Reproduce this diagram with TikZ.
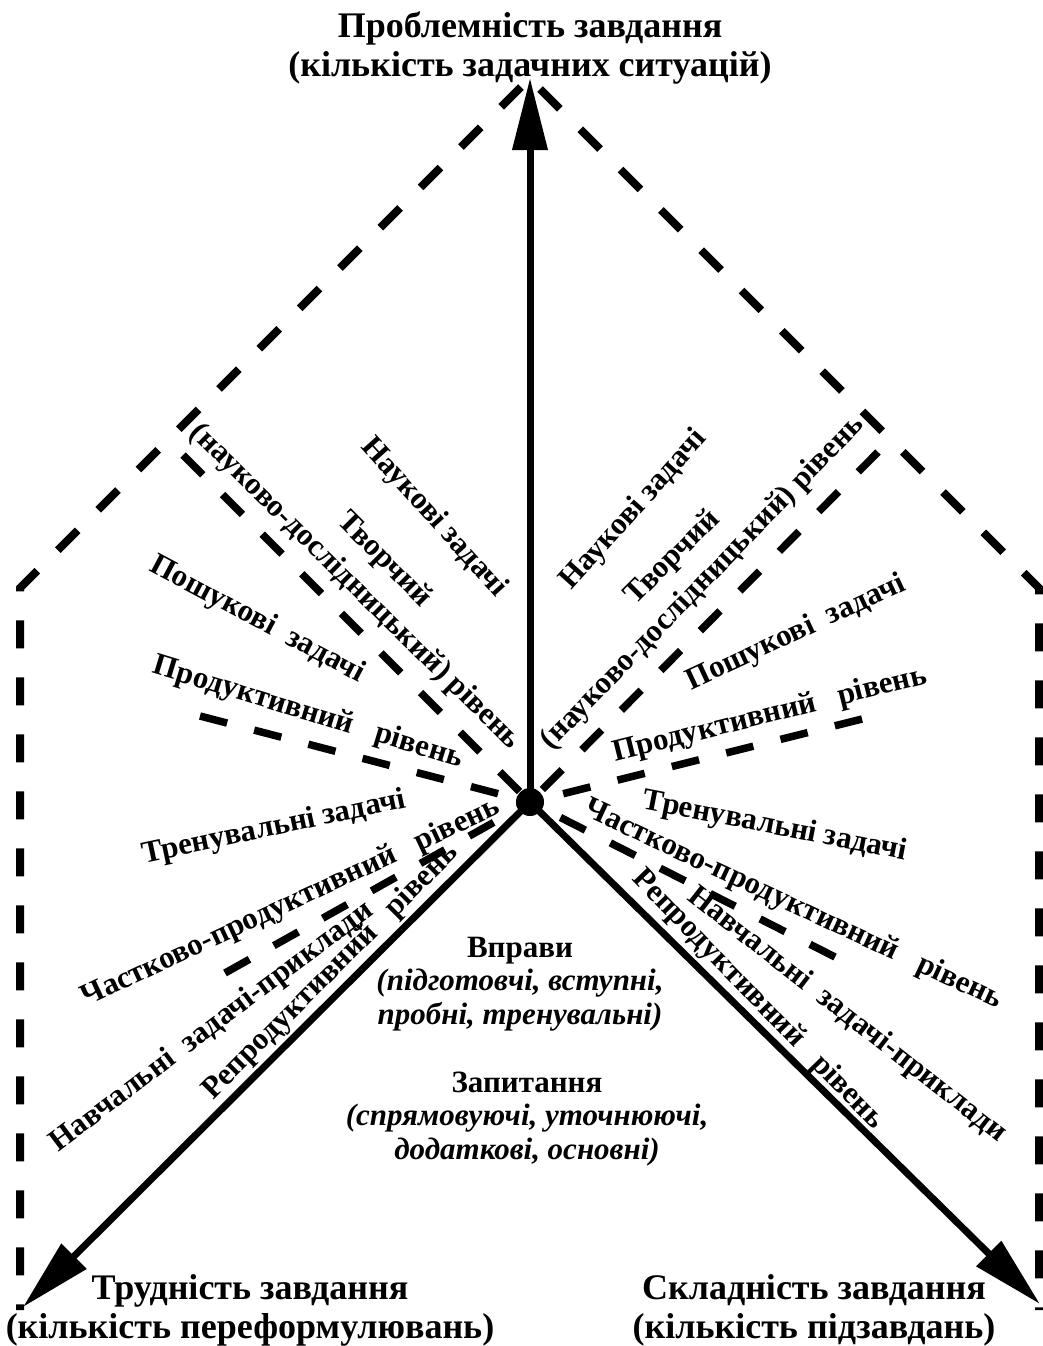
\documentclass[tikz,border=0pt]{standalone}
\usepackage{fontspec}
\setmainfont{Liberation Serif}
\usetikzlibrary{arrows.meta}

\begin{document}
\begin{tikzpicture}[x=0.5pt, y=-0.5pt,
    axis/.style={line width=3.5pt, -{Triangle[length=36pt, width=17pt]}},
    border/.style={line width=4pt, dash pattern=on 14pt off 14.5pt},
    level/.style={line width=3.75pt, dash pattern=on 14pt off 14pt},
    lbl/.style={font=\fontsize{15.5}{17}\selectfont\bfseries, inner sep=0pt},
    note/.style={font=\fontsize{15.5}{16.75}\selectfont\bfseries, align=center, inner sep=0pt},
    ttl/.style={font=\fontsize{18}{19.5}\selectfont\bfseries, align=center, inner sep=0pt}]

    % Fix the size of the page
    \useasboundingbox (0,0) rectangle (1043,1346);

    % Define the centre and the tips of the axes
    \coordinate (O) at (530,802);      % Centre point
    \coordinate (P) at (530,78);       % Tip of the upper axis
    \coordinate (T) at (23,1307);      % Tip of the left axis
    \coordinate (S) at (1040,1304);    % Tip of the right axis

    % Define the corners of the dashed outline
    \coordinate (L0) at (521,87);      % Top of the left side
    \coordinate (L1) at (20,588);      % Left corner
    \coordinate (L2) at (20,1310);     % Bottom of the left side
    \coordinate (R0) at (540,89);      % Top of the right side
    \coordinate (R1) at (1039,588);    % Right corner
    \coordinate (R2) at (1039,1310);   % Bottom of the right side

    % Define the outer ends of the dashed level lines
    \coordinate (A) at (183,455);      % Upper left, steep
    \coordinate (B) at (200,716);      % Upper left, flat
    \coordinate (F) at (225,973);      % Lower left
    \coordinate (C) at (878,452);      % Upper right, steep
    \coordinate (D) at (862,719);      % Upper right, flat
    \coordinate (E) at (835,957);      % Lower right

    % Draw the dashed outline
    \draw[border] (L0) -- (L1) -- (L2);
    \draw[border] (R0) -- (R1) -- (R2);

    % Draw the dashed level lines
    \draw[level] (A) -- (O);
    \draw[level] (B) -- (O);
    \draw[level] (F) -- (O);
    \draw[level] (C) -- (O);
    \draw[level] (D) -- (O);
    \draw[level] (E) -- (O);

    % Draw the three axes
    \draw[axis] (O) -- (P);            % Axis of problem level
    \draw[axis] (O) -- (T);            % Axis of difficulty
    \draw[axis] (O) -- (S);            % Axis of complexity

    % Draw the centre dot
    \fill (O) circle (7pt);

    % Label the axes
    \node[ttl] (top) at (530,48) {Проблемність завдання\\(кількість задачних ситуацій)};
    \node[ttl] (left) at (250,1310) {Трудність завдання\\(кількість переформулювань)};
    \node[ttl] (right) at (814,1310) {Складність завдання\\(кількість підзавдань)};

    % Label the upper left sector
    \node[lbl, rotate=-48] (ul1) at (434,518) {Наукові задачі};
    \node[lbl, rotate=-45] (ul2) at (384,560) {Творчий};
    \node[lbl, rotate=-44.5] (ul3) at (355,587) {(науково-дослідницький) рівень};
    \node[lbl, rotate=-28] (ul4) at (257,620) {Пошукові\ \ задачі};
    \node[lbl, rotate=-17] (ul5) at (308,713) {Продуктивний\ \ \ рівень};

    % Label the upper right sector
    \node[lbl, rotate=48] (ur1) at (634,510) {Наукові задачі};
    \node[lbl, rotate=45] (ur2) at (673,558) {Творчий};
    \node[lbl, rotate=46] (ur3) at (703,583) {(науково-дослідницький) рівень};
    \node[lbl, rotate=25] (ur4) at (796,633) {Пошукові\ \ задачі};
    \node[lbl, rotate=14] (ur5) at (770,715) {Продуктивний\ \ \ рівень};

    % Label the lower left sector
    \node[lbl, rotate=12] (ll1) at (274,828) {Тренувальні задачі};
    \node[lbl, rotate=25] (ll2) at (291,903) {Частково-продуктивний\ \ \ рівень};
    \node[lbl, rotate=37] (ll3) at (212,1027) {Навчальні\ \ задачі-приклади};
    \node[lbl, rotate=45] (ll4) at (331,972) {Репродуктивний\ \ \ рівень};

    % Label the lower right sector
    \node[lbl, rotate=-11] (lr1) at (775,827) {Тренувальні задачі};
    \node[lbl, rotate=-25] (lr2) at (793,905) {Частково-продуктивний\ \ \ рівень};
    \node[lbl, rotate=-38] (lr3) at (847,1015) {Навчальні\ \ задачі-приклади};
    \node[lbl, rotate=-46] (lr4) at (758,1000) {Репродуктивний\ \ \ рівень};

    % Label the kinds of tasks in the lower sector
    \node[note] (ex) at (520,984) {Вправи\\\textit{(підготовчі, вступні,}\\\textit{пробні, тренувальні)}};
    \node[note] (qu) at (527,1119) {Запитання\\\textit{(спрямовуючі, уточнюючі,}\\\textit{додаткові, основні)}};

\end{tikzpicture}
\end{document}
